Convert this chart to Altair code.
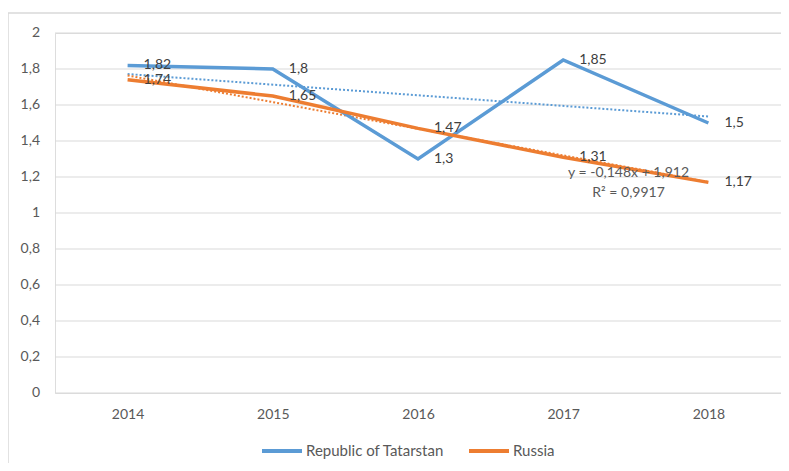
import altair as alt
import pandas as pd

years = [2014, 2015, 2016, 2017, 2018]
tatarstan = [1.82, 1.8, 1.3, 1.85, 1.5]
russia = [1.74, 1.65, 1.47, 1.31, 1.17]
series_names = ["Republic of Tatarstan", "Russia"]
colors = ["#5B9BD5", "#ED7D31"]
y_ticks = [0, 0.2, 0.4, 0.6, 0.8, 1, 1.2, 1.4, 1.6, 1.8, 2]
eq_lines = ["y = -0,148x + 1,912", "R² = 0,9917"]

rows = []
for name, vals in zip(series_names, [tatarstan, russia]):
    for yr, v in zip(years, vals):
        rows.append({"year": yr, "value": v, "series": name})
df = pd.DataFrame(rows)
ticks_df = pd.DataFrame({"value": y_ticks})

FONT = "Lato"
GRAY = "#595959"
W, H = 726, 360

x_scale = alt.Scale(domain=[2013.5, 2018.5], nice=False, zero=False)
y_scale = alt.Scale(domain=[0, 2], nice=False)
x_axis = alt.Axis(values=years, format="d", title=None, grid=False, domain=False,
                  ticks=False, labelPadding=14, labelFontSize=14, labelColor=GRAY,
                  labelFont=FONT, labelOverlap=False)
x_enc = alt.X("year:Q", scale=x_scale, axis=x_axis)
y_enc = alt.Y("value:Q", scale=y_scale, axis=None)
color_scale = alt.Scale(domain=series_names, range=colors)
legend = alt.Legend(title=None, orient="none", legendX=205, legendY=396,
                    direction="horizontal", symbolType="stroke",
                    symbolSize=1600, symbolStrokeWidth=4,
                    labelFontSize=15, labelColor=GRAY, labelFont=FONT,
                    labelOffset=2, columnPadding=16)
color_enc = alt.Color("series:N", scale=color_scale, sort=series_names, legend=legend)

# horizontal gridlines and y tick labels through the y scale
grid = alt.Chart(ticks_df).mark_rule(color="#D9D9D9", strokeWidth=1.2).encode(
    y=y_enc, x=alt.value(0), x2=alt.value(W)
)
ytext = alt.Chart(ticks_df).transform_calculate(
    lab="replace(format(datum.value, '~g'), '.', ',')"
).mark_text(align="right", baseline="middle", fontSize=14, font=FONT, color=GRAY).encode(
    y=y_enc, x=alt.value(-15), text="lab:N"
)

base = alt.Chart(df)

lines = base.mark_line(strokeWidth=3.5).encode(x=x_enc, y=y_enc, color=color_enc)

trend = base.transform_regression("year", "value", groupby=["series"]).mark_line(
    strokeWidth=2, strokeDash=[2, 2]
).encode(x=x_enc, y=y_enc, color=color_enc)

labels = base.transform_calculate(
    label="replace(toString(datum.value), '.', ',')"
).mark_text(align="left", baseline="middle", dx=16, fontSize=14, font=FONT, color="#404040").encode(
    x=x_enc, y=y_enc, text="label:N"
)

eq1 = alt.Chart(pd.DataFrame({"t": [eq_lines[0]]})).mark_text(
    align="center", baseline="middle", fontSize=14, font=FONT, color=GRAY
).encode(x=alt.X(datum=2017.45, type="quantitative", scale=x_scale, axis=x_axis),
         y=alt.Y(datum=1.222, type="quantitative", scale=y_scale, axis=None), text="t:N")
eq2 = alt.Chart(pd.DataFrame({"t": [eq_lines[1]]})).mark_text(
    align="center", baseline="middle", fontSize=14, font=FONT, color=GRAY
).encode(x=alt.X(datum=2017.45, type="quantitative", scale=x_scale, axis=x_axis),
         y=alt.Y(datum=1.11, type="quantitative", scale=y_scale, axis=None), text="t:N")

frame = alt.Chart(pd.DataFrame({"a": [0]})).mark_rect(
    fill=None, stroke="#D9D9D9", strokeWidth=1.5
).encode(x=alt.value(-47), x2=alt.value(760), y=alt.value(-20), y2=alt.value(460))

chart = alt.layer(grid, ytext, trend, lines, labels, eq1, eq2, frame).properties(
    width=W, height=H,
    autosize=alt.AutoSizeParams(type="none"),
    padding={"left": 47, "top": 25, "right": 0, "bottom": 70},
).configure_view(stroke=None).configure(font=FONT)

chart.save("out.html", embed_options={"renderer": "svg", "actions": False})
